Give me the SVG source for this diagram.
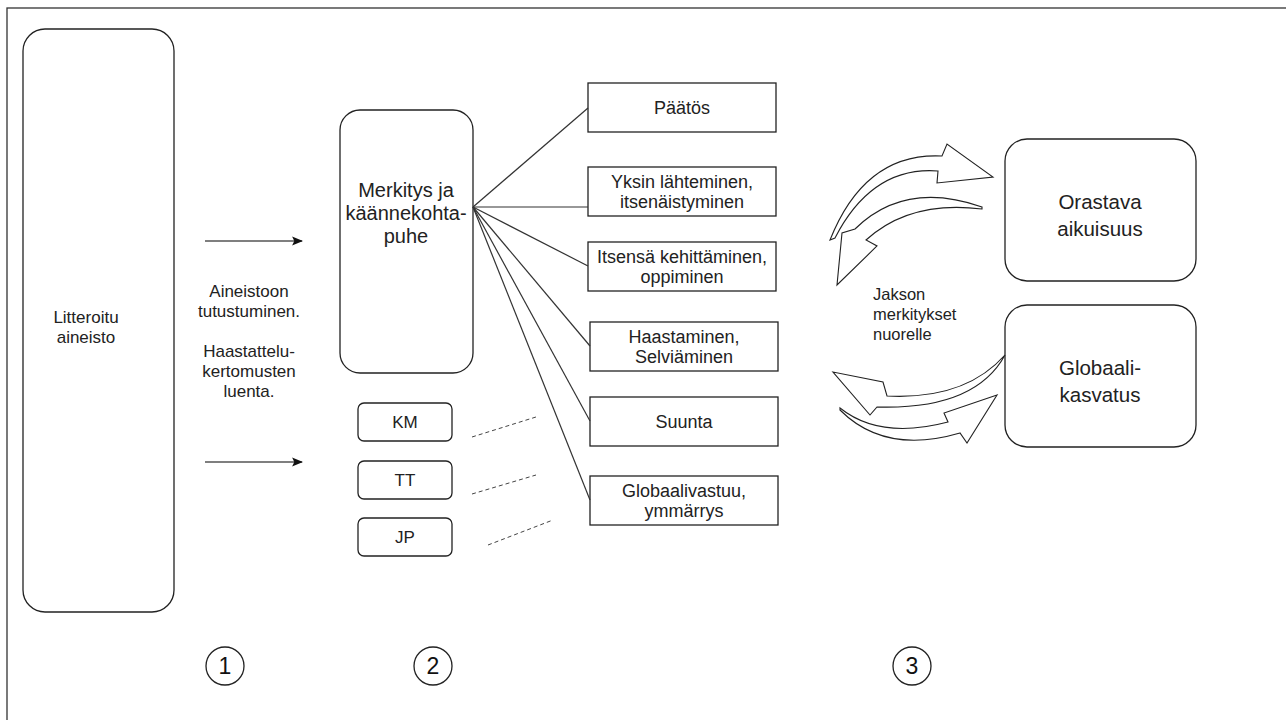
<svg xmlns="http://www.w3.org/2000/svg" width="1286" height="720" viewBox="0 0 1286 720">
<defs>
<style>
.box{fill:#fff;stroke:#222;stroke-width:1.3}
.t{font-family:"Liberation Sans",Arial,sans-serif;font-size:18px;fill:#222;text-anchor:middle}
.tl{font-family:"Liberation Sans",Arial,sans-serif;font-size:17px;fill:#222;text-anchor:middle}
.tm{font-family:"Liberation Sans",Arial,sans-serif;font-size:20px;fill:#222;text-anchor:middle}
.tj{font-family:"Liberation Sans",Arial,sans-serif;font-size:16.5px;fill:#222;text-anchor:start}
.tb{font-family:"Liberation Sans",Arial,sans-serif;font-size:20.5px;fill:#222;text-anchor:middle}
.num{font-family:"Liberation Sans",Arial,sans-serif;font-size:23px;fill:#111;text-anchor:middle}
.ln{stroke:#333;stroke-width:1.2;fill:none}
.dash{stroke:#444;stroke-width:1;stroke-dasharray:4 3;fill:none}
.arr{stroke:#555;stroke-width:1.6;fill:none;marker-end:url(#ah)}
.blk{fill:#fff;stroke:#222;stroke-width:1.1}
.circ{fill:none;stroke:#222;stroke-width:1.3}
</style>
<marker id="ah" viewBox="0 0 10 10" refX="9" refY="5" markerWidth="11" markerHeight="11" markerUnits="userSpaceOnUse" orient="auto">
<path d="M0,1 L10,5 L0,9 L2,5 Z" fill="#111"/>
</marker>
</defs>
<rect width="1286" height="720" fill="#fff"/>
<rect x="7" y="8" width="1300" height="730" fill="none" stroke="#333" stroke-width="1.3"/>

<g id="litteroitu">
<rect class="box" x="23" y="29" width="151" height="583" rx="22"/>
<text class="tl" x="86" y="323">Litteroitu</text>
<text class="tl" x="86" y="343">aineisto</text>
</g>

<g id="vaihe1-teksti">
<text class="tl" x="249" y="297">Aineistoon</text>
<text class="tl" x="249" y="317">tutustuminen.</text>
<text class="tl" x="249" y="357">Haastattelu-</text>
<text class="tl" x="249" y="377">kertomusten</text>
<text class="tl" x="249" y="397">luenta.</text>
</g>

<g id="merkitys">
<rect class="box" x="340" y="110" width="133" height="263" rx="20"/>
<text class="tm" x="406" y="197">Merkitys ja</text>
<text class="tm" x="406" y="220">käännekohta-</text>
<text class="tm" x="406" y="243">puhe</text>
</g>

<g id="km"><rect class="box" x="358" y="403" width="94" height="38" rx="6"/><text class="tl" x="405" y="428">KM</text></g>
<g id="tt"><rect class="box" x="358" y="461" width="94" height="38" rx="6"/><text class="tl" x="405" y="486">TT</text></g>
<g id="jp"><rect class="box" x="358" y="518" width="94" height="38" rx="6"/><text class="tl" x="405" y="543">JP</text></g>

<g id="paatos"><rect class="box" x="588" y="83" width="188" height="49"/><text class="t" x="682" y="114">Päätös</text></g>
<g id="yksin"><rect class="box" x="588" y="167" width="188" height="49"/><text class="t" x="682" y="188">Yksin lähteminen,</text><text class="t" x="682" y="208">itsenäistyminen</text></g>
<g id="itsensa"><rect class="box" x="588" y="242" width="188" height="49"/><text class="t" x="682" y="263">Itsensä kehittäminen,</text><text class="t" x="682" y="283">oppiminen</text></g>
<g id="haastaminen"><rect class="box" x="590" y="322" width="188" height="49"/><text class="t" x="684" y="343">Haastaminen,</text><text class="t" x="684" y="363">Selviäminen</text></g>
<g id="suunta"><rect class="box" x="590" y="397" width="188" height="49"/><text class="t" x="684" y="428">Suunta</text></g>
<g id="globaalivastuu"><rect class="box" x="590" y="476" width="188" height="49"/><text class="t" x="684" y="497">Globaalivastuu,</text><text class="t" x="684" y="517">ymmärrys</text></g>

<g id="orastava"><rect class="box" x="1005" y="139" width="191" height="142" rx="22"/><text class="tb" x="1100" y="209">Orastava</text><text class="tb" x="1100" y="236">aikuisuus</text></g>
<g id="globaalikasvatus"><rect class="box" x="1005" y="305" width="191" height="142" rx="22"/><text class="tb" x="1100" y="375">Globaali-</text><text class="tb" x="1100" y="402">kasvatus</text></g>

<g id="jakson">
<text class="tj" x="873" y="300">Jakson</text>
<text class="tj" x="873" y="320">merkitykset</text>
<text class="tj" x="873" y="340">nuorelle</text>
</g>

<g id="vaiheet">
<circle class="circ" cx="225" cy="666" r="19"/><text class="num" x="225" y="674">1</text>
<circle class="circ" cx="433" cy="666" r="19"/><text class="num" x="433" y="674">2</text>
<circle class="circ" cx="912" cy="666" r="19"/><text class="num" x="912" y="674">3</text>
</g>

<g id="connectors">
<line class="arr" x1="205" y1="241" x2="302" y2="241"/>
<line class="arr" x1="205" y1="462" x2="302" y2="462"/>
<line class="ln" x1="473" y1="207" x2="588" y2="108"/>
<line class="ln" x1="473" y1="207" x2="588" y2="207"/>
<line class="ln" x1="473" y1="207" x2="588" y2="266"/>
<line class="ln" x1="473" y1="207" x2="590" y2="346"/>
<line class="ln" x1="473" y1="207" x2="590" y2="421"/>
<line class="ln" x1="473" y1="207" x2="590" y2="500"/>
<line class="dash" x1="472" y1="437" x2="536" y2="417"/>
<line class="dash" x1="472" y1="494" x2="536" y2="475"/>
<line class="dash" x1="488" y1="545" x2="553" y2="520"/>
<path class="blk" d="M830,240 Q865,152 942,156 L947,144 L993,177 L937,183 L938,171 Q872,166 835,238 Z"/>
<path class="blk" d="M982,207 Q905,180 855,229 L842,233 L837,285 L877,246 L866,240 Q910,200 982,209 Z"/>
<path class="blk" d="M1005,355 Q975,410 877,407 L870,415 L833,372 L883,382 L887,396 Q965,400 1005,355 Z"/>
<path class="blk" d="M840,408 Q880,440 948,422 L944,413 L997,395 L967,443 L960,433 Q885,455 840,410 Z"/>
</g>
</svg>
